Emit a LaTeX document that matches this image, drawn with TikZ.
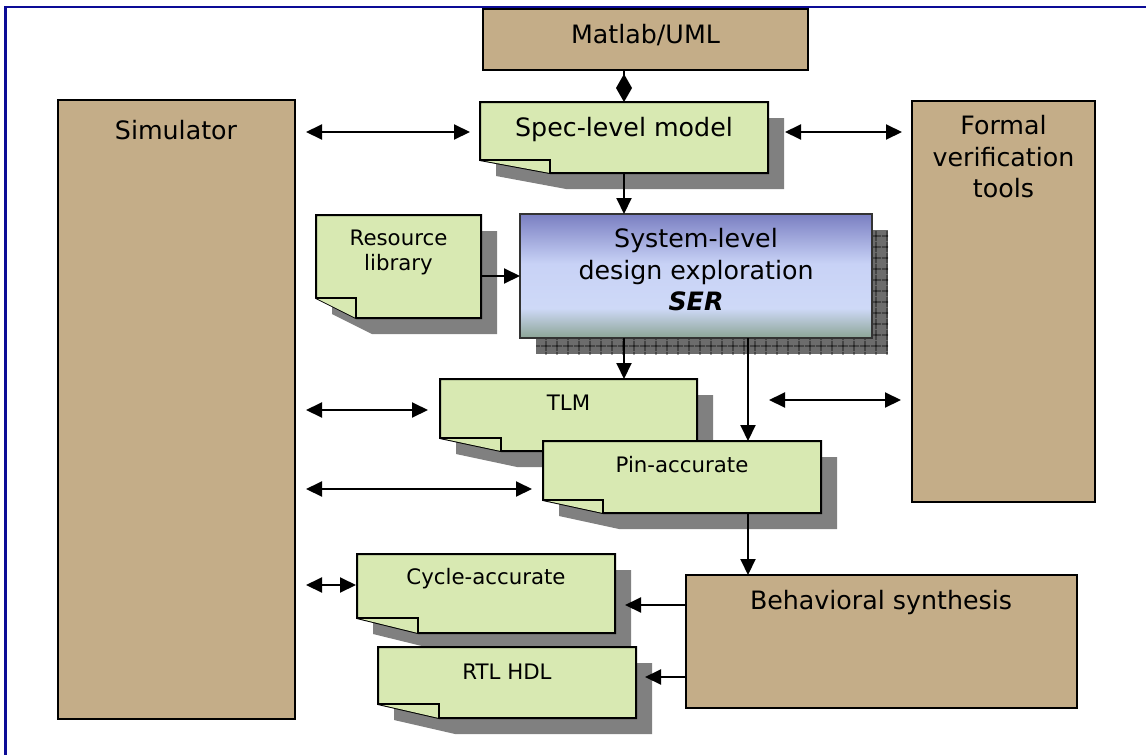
\documentclass[tikz,border=0pt]{standalone}
\usepackage{fontspec}
\setmainfont{DejaVu Sans}
\usetikzlibrary{arrows.meta,patterns.meta,calc}

\definecolor{frameblue}{RGB}{12,12,150}
\definecolor{toolbrown}{RGB}{196,173,136}
\definecolor{notegreen}{RGB}{216,233,178}
\definecolor{noteshade}{RGB}{128,128,128}
\definecolor{hatchgray}{RGB}{108,108,108}
\definecolor{sertop}{RGB}{122,127,194}
\definecolor{sermid}{RGB}{200,210,246}
\definecolor{serlow}{RGB}{206,217,247}
\definecolor{serbot}{RGB}{140,165,150}

\pgfdeclareverticalshading{serfill}{100bp}{%
  color(0bp)=(serbot); color(25bp)=(serbot); color(37bp)=(serlow);
  color(55bp)=(sermid); color(75bp)=(sertop); color(100bp)=(sertop)}

% note sheet with a turned-up lower left corner and a grey drop shadow
% #1 name, #2 left, #3 top, #4 right, #5 bottom, #6 fold width, #7 fold height
\newcommand\foldnote[7]{%
  \node[notearea, minimum width={#4-#2}, minimum height={#5-#3},
        anchor=north west] (#1) at (#2,#3) {};
  \fill[noteshade, shift={(16,16)}] (#2,#3) -- (#4,#3) -- (#4,#5)
      -- ({#2+#6},#5) -- (#2,{#5-#7}) -- cycle;
  \filldraw[sheet] (#2,#3) -- (#4,#3) -- (#4,#5)
      -- ({#2+#6},#5) -- (#2,{#5-#7}) -- cycle;
  \draw[sheet] (#2,{#5-#7}) -- ({#2+#6},{#5-#7}) -- ({#2+#6},#5);
}

\begin{document}
\begin{tikzpicture}[x=1pt,y=-1pt,
  toolbox/.style={draw=black, line width=2.2pt, fill=toolbrown,
                  inner sep=0pt, outer sep=0pt, anchor=north west},
  notearea/.style={inner sep=0pt, outer sep=0pt},
  sheet/.style={draw=black, fill=notegreen, line width=2pt, line join=miter},
  biglabel/.style={font=\fontsize{25.3}{31.5}\selectfont, align=center, inner sep=0pt},
  smalllabel/.style={font=\fontsize{21.3}{25}\selectfont, align=center, inner sep=0pt},
  link/.style={line width=2pt, -{Triangle[length=16pt,width=15pt]}},
  twoway/.style={line width=2pt,
                 {Triangle[length=16pt,width=15pt]}-{Triangle[length=16pt,width=15pt]}},
  diamondlink/.style={line width=2pt, -{Diamond[length=28pt,width=16pt]}}]

\useasboundingbox (0,0) rectangle (1146,755);
\fill[white] (0,0) rectangle (1146,755);

% page frame
\draw[frameblue, line width=2.4pt] (1146,7) -- (5.5,7) -- (5.5,755);

% tool boxes
\node[toolbox, minimum width=325, minimum height=61] (matlab) at (483,9) {};
\node[biglabel] (matlab-t) at (645.5,35) {Matlab/UML};

\node[toolbox, minimum width=237, minimum height=619] (sim) at (58,100) {};
\node[biglabel] (sim-t) at (176,130) {Simulator};

\node[toolbox, minimum width=183, minimum height=401] (formal) at (912,101) {};
\node[biglabel] (formal-t) at (1003.5,157) {Formal\\verification\\tools};

\node[toolbox, minimum width=391, minimum height=133] (behav) at (686,575) {};
\node[biglabel] (behav-t) at (881,603) {Behavioral synthesis};

% model sheets
\foldnote{spec}{480}{102}{768}{173}{70}{13}
\node[biglabel] (spec-t) at (624,130) {Spec-level model};

\foldnote{res}{316}{215}{481}{318}{40}{20}
\node[smalllabel] (res-t) at (398.5,252) {Resource\\library};

% exploration engine with hatched shadow
\fill[hatchgray] (536,230) rectangle (888,354);
\fill[pattern={Hatch[angle=0,distance=10.5pt,line width=0.8pt]}, pattern color=black]
  (536,230) rectangle (888,354);
\node[draw=black!80, line width=1.3pt, shade, shading=serfill,
      minimum width=352, minimum height=124, inner sep=0pt, outer sep=0pt,
      anchor=north west] (ser) at (520,214) {};
\node[biglabel] (ser-t) at (696,270) {System-level\\design exploration\\\textbf{\textit{SER}}};

\foldnote{tlm}{440}{379}{697}{451}{61}{13}
\node[smalllabel] (tlm-t) at (568.5,403) {TLM};

\foldnote{pin}{543}{441}{821}{513}{60}{13}
\node[smalllabel] (pin-t) at (682,465) {Pin-accurate};

\foldnote{cyc}{357}{554}{615}{633}{61}{15}
\node[smalllabel] (cyc-t) at (486,579) {Cycle-accurate};

\foldnote{rtl}{378}{647}{636}{718}{61}{14}
\node[smalllabel] (rtl-t) at (507,672) {RTL HDL};

% helper points for the connectors
\coordinate (col) at (748,0);
\coordinate (row-spec) at (0,132);
\coordinate (row-tlm) at (0,410);
\coordinate (row-pin) at (0,489);
\coordinate (row-cyc) at (0,585);
\coordinate (row-fv) at (0,400);
\coordinate (cyc-in) at ($(cyc.east)+(10,11.5)$);
\coordinate (rtl-in) at ($(rtl.east)+(9,-5.5)$);

% design flow
\draw[diamondlink] (matlab.south -| spec.north) -- (spec.north);
\draw[link] (spec.south) -- (ser.north -| spec.south);
\draw[link] (res.east |- ser.west) -- (ser.west);
\draw[link] (ser.south -| spec.south) -- (tlm.north -| spec.south);
\draw[link] (ser.south -| col) -- (pin.north -| col);
\draw[link] (pin.south -| col) -- (behav.north -| col);
\draw[link] (behav.west |- cyc-in) -- (cyc-in);
\draw[link] (behav.west |- rtl-in) -- (rtl-in);

% simulation and verification links
\draw[twoway, shorten <=11pt, shorten >=10pt] (sim.east |- row-spec) -- (spec.west |- row-spec);
\draw[twoway, shorten <=11pt, shorten >=12pt] (sim.east |- row-tlm) -- (tlm.west |- row-tlm);
\draw[twoway, shorten <=11pt, shorten >=11pt] (sim.east |- row-pin) -- (pin.west |- row-pin);
\draw[twoway, shorten <=11pt, shorten >=1pt] (sim.east |- row-cyc) -- (cyc.west |- row-cyc);
\draw[twoway, shorten <=17pt, shorten >=10pt] (spec.east |- row-spec) -- (formal.west |- row-spec);
\draw[twoway, shorten <=21pt, shorten >=11pt] (col |- row-fv) -- (formal.west |- row-fv);

\end{tikzpicture}
\end{document}
